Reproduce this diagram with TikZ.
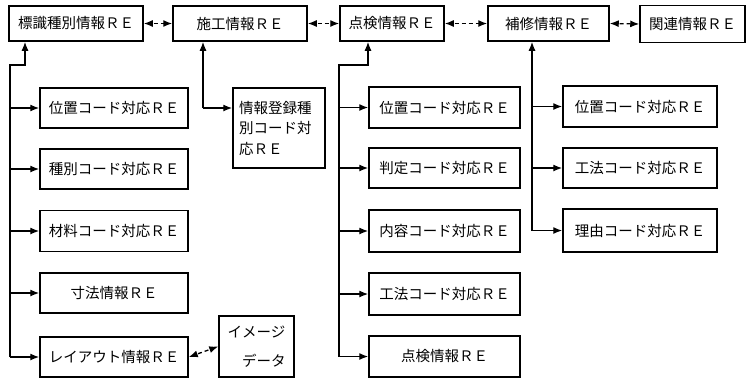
\documentclass[tikz,border=0pt]{standalone}
\usepackage{fontspec}
\setmainfont{Noto Sans CJK JP}
\usetikzlibrary{arrows.meta}
\tikzset{
  box/.style={draw, line width=1.5pt, inner sep=0pt, font=\fontsize{14.5}{16}\selectfont},
  tip/.tip={Latex[length=9pt,width=7pt]},
  conn/.style={line width=1.3pt, -tip},
  dbl/.style={line width=1.3pt, tip-tip, dash pattern=on 4pt off 3pt, dash phase=-1.5pt},
}
\begin{document}
\begin{tikzpicture}[x=1pt,y=-1pt]
\useasboundingbox (0,0) rectangle (754,381);
% top row
\node[box, minimum width=134pt, minimum height=35pt] (t1) at (76,23.5) {標識種別情報ＲＥ};
\node[box, minimum width=134pt, minimum height=35pt] (t2) at (240,23.5) {施工情報ＲＥ};
\node[box, minimum width=104pt, minimum height=35pt] (t3) at (392,23.5) {点検情報ＲＥ};
\node[box, minimum width=121pt, minimum height=35pt] (t4) at (548.5,23.5) {補修情報ＲＥ};
\node[box, minimum width=105pt, minimum height=37pt] (t5) at (692.5,24) {関連情報ＲＥ};
\draw[dbl] (t1.east) -- (t2.west);
\draw[dbl] (t2.east) -- (t3.west);
\draw[dbl] (t3.east) -- (t4.west);
\draw[dbl] (t4.east) -- (t5.west);
% left column
\node[box, minimum width=148pt, minimum height=40pt] (a1) at (114,108) {位置コード対応ＲＥ};
\node[box, minimum width=148pt, minimum height=40pt] (a2) at (114,169) {種別コード対応ＲＥ};
\node[box, minimum width=148pt, minimum height=41pt] (a3) at (114,231) {材料コード対応ＲＥ};
\node[box, minimum width=148pt, minimum height=40pt] (a4) at (114,293) {寸法情報ＲＥ};
\node[box, minimum width=148pt, minimum height=40pt] (a5) at (114,357) {レイアウト情報ＲＥ};
\node[box, minimum width=75pt, minimum height=61pt, align=center, font=\fontsize{14.5}{29}\selectfont] (img) at (256.5,346.5) {イメージ\\　データ};
\draw[dbl] (a5.east) -- (img.west);
\coordinate (k1) at (25,0);
\coordinate (c1) at (10,65);
\coordinate (b1) at (10,357);
\draw[conn] (b1) -- (c1) -| (t1.south -| k1);
\foreach \n in {a1,a2,a3,a4,a5} \draw[conn] (b1 |- \n.west) -- (\n.west);
% registration
\node[box, minimum width=92pt, minimum height=80pt, align=left, text width=80pt, font=\fontsize{14.5}{20.5}\selectfont] (reg) at (279,128) {情報登録種\\別コード対\\応ＲＥ};
\coordinate (k2) at (203,108);
\draw[conn] (k2) -- (t2.south -| k2);
\draw[conn] (k2) -- (k2 -| reg.west);
% middle column
\node[box, minimum width=151pt, minimum height=41pt] (m1) at (444.5,107.5) {位置コード対応ＲＥ};
\node[box, minimum width=151pt, minimum height=40pt] (m2) at (444.5,168) {判定コード対応ＲＥ};
\node[box, minimum width=151pt, minimum height=42pt] (m3) at (444.5,231) {内容コード対応ＲＥ};
\node[box, minimum width=151pt, minimum height=42pt] (m4) at (444.5,294) {工法コード対応ＲＥ};
\node[box, minimum width=151pt, minimum height=41pt] (m5) at (444.5,356.5) {点検情報ＲＥ};
\coordinate (k3) at (368,0);
\coordinate (c3) at (339,65);
\coordinate (b3) at (339,356.5);
\draw[conn] (b3) -- (c3) -| (t3.south -| k3);
\foreach \n in {m1,m2,m3,m4,m5} \draw[conn] (b3 |- \n.west) -- (\n.west);
% right column
\node[box, minimum width=154pt, minimum height=41pt] (r1) at (640,106.5) {位置コード対応ＲＥ};
\node[box, minimum width=154pt, minimum height=40pt] (r2) at (640,168) {工法コード対応ＲＥ};
\node[box, minimum width=154pt, minimum height=43pt] (r3) at (640,230.5) {理由コード対応ＲＥ};
\coordinate (b4) at (532,230.5);
\draw[conn] (b4) -- (t4.south -| b4);
\foreach \n in {r1,r2,r3} \draw[conn] (b4 |- \n.west) -- (\n.west);
\end{tikzpicture}
\end{document}
